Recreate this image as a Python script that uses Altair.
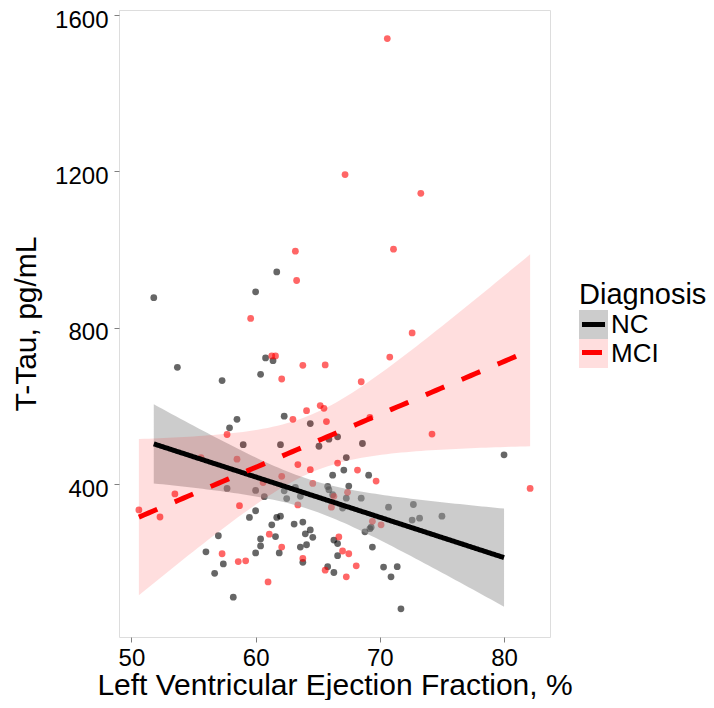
import altair as alt
import numpy as np
import pandas as pd

# ---- data ----
nc_x = [51.8, 61.7, 60.0, 53.7, 57.3, 60.4, 60.8, 61.4, 62.3, 64.4, 58.5, 57.9, 59.0, 62.0,
        65.1, 65.9, 66.6, 68.6, 57.7, 60.0, 60.7, 62.3, 62.5, 63.2, 63.6, 66.2, 65.8, 65.9,
        66.2, 60.0, 59.5, 61.7, 62.0, 61.3, 63.1, 63.8, 57.0, 60.4, 61.6, 64.0, 64.4, 64.6,
        60.4, 63.6, 64.1, 66.3, 66.6, 56.0, 60.0, 61.9, 66.6, 57.4, 56.7, 63.8, 65.8, 66.3,
        58.2, 67.3, 80.0, 67.1, 69.1, 67.5, 67.3, 68.5, 67.0, 70.7, 72.7, 72.6, 73.2, 75.0,
        68.8, 69.2, 69.3, 69.4, 70.3, 70.9, 71.4, 71.7]
nc_y = [877, 943, 892, 699, 665, 681, 723, 716, 574, 555, 566, 544, 501, 501,
        497, 515, 521, 504, 389, 384, 368, 383, 363, 392, 369, 423, 394, 386,
        373, 332, 315, 315, 318, 296, 298, 303, 268, 260, 266, 273, 283, 264,
        242, 239, 245, 257, 248, 227, 224, 224, 217, 196, 172, 200, 189, 174,
        111, 468, 475, 436, 423, 395, 364, 364, 339, 341, 348, 308, 313, 318,
        278, 286, 290, 239, 188, 163, 189, 81]

mci_x = [63.2, 63.3, 59.6, 61.3, 61.6, 63.8, 65.6, 62.1, 65.2, 65.5, 64.1, 63.0, 65.7, 57.7,
         71.1, 72.6, 70.8, 68.5, 69.2, 74.2, 70.6, 67.2, 73.3, 55.6, 58.5, 62.1, 63.4, 64.4,
         64.6, 66.6, 60.6, 53.5, 50.6, 52.3, 58.7, 63.4, 66.1, 61.1, 62.1, 57.3, 58.6, 59.2,
         63.8, 65.6, 61.0, 66.7, 68.2, 69.7, 82.1, 67.4, 66.3, 69.4, 70.1, 67.0, 67.5, 68.1,
         67.3]
mci_y = [996, 921, 824, 728, 728, 704, 705, 669, 601, 594, 588, 566, 560, 527,
         1001, 787, 725, 662, 571, 528, 1540, 1192, 1144, 468, 464, 420, 450, 437,
         402, 454, 404, 375, 334, 316, 345, 347, 341, 272, 239, 222, 202, 204,
         210, 180, 150, 265, 436, 408, 389, 379, 369, 305, 296, 229, 222, 191,
         163]

groups = ["NC", "MCI"]
fit_keys = ["NC fit", "MCI fit"]
x_ticks = [50, 60, 70, 80]
y_ticks = [400, 800, 1200, 1600]

FONT = "Liberation Sans"


def fit_band(xs, ys, n_grid=80):
    x = np.asarray(xs, float)
    y = np.asarray(ys, float)
    n = len(x)
    b, a = np.polyfit(x, y, 1)
    resid = y - (a + b * x)
    s = np.sqrt(np.sum(resid ** 2) / (n - 2))
    xbar = x.mean()
    sxx = np.sum((x - xbar) ** 2)
    z = 1.959964
    df = n - 2
    t = z + (z ** 3 + z) / (4 * df) + (5 * z ** 5 + 16 * z ** 3 + 3 * z) / (96 * df ** 2)
    g = np.linspace(x.min(), x.max(), n_grid)
    f = a + b * g
    se = s * np.sqrt(1.0 / n + (g - xbar) ** 2 / sxx)
    return g, f, f - t * se, f + t * se


points = pd.concat([
    pd.DataFrame({"x": nc_x, "y": nc_y, "Diagnosis": "NC"}),
    pd.DataFrame({"x": mci_x, "y": mci_y, "Diagnosis": "MCI"}),
], ignore_index=True)

bands = []
for name, key, xs, ys in [("NC", "NC fit", nc_x, nc_y), ("MCI", "MCI fit", mci_x, mci_y)]:
    g, f, lo, hi = fit_band(xs, ys)
    bands.append(pd.DataFrame({"x": g, "fit": f, "lo": lo, "hi": hi,
                               "Diagnosis": name, "Dx": key}))
band = pd.concat(bands, ignore_index=True)

xscale = alt.Scale(domain=[49.0, 83.7], nice=False, zero=False)
yscale = alt.Scale(domain=[9, 1613], nice=False, zero=False)

xaxis = alt.Axis(values=x_ticks, title="Left Ventricular Ejection Fraction, %",
                 grid=False, domain=False, tickColor="#808080", tickSize=5, tickWidth=1,
                 labelFontSize=24, labelFont=FONT, labelColor="black", labelPadding=4,
                 titleFontSize=30, titleFont=FONT, titleFontWeight="normal",
                 titleColor="black", titlePadding=0)
yaxis = alt.Axis(values=y_ticks, title="T-Tau, pg/mL", format="d",
                 grid=False, domain=False, tickColor="#808080", tickSize=5, tickWidth=1,
                 labelFontSize=24, labelFont=FONT, labelColor="black", labelPadding=6,
                 labelOffset=5,
                 titleFontSize=30, titleFont=FONT, titleFontWeight="normal",
                 titleColor="black", titlePadding=13)

# point colours: data-derived (alphabetical MCI, NC) domain, no legend
pts = alt.Chart(points).mark_circle(size=46, opacity=0.6).encode(
    x=alt.X("x:Q", scale=xscale, axis=xaxis),
    y=alt.Y("y:Q", scale=yscale, axis=yaxis),
    color=alt.Color("Diagnosis:N", scale=alt.Scale(range=["red", "black"]), legend=None),
)

LEG_X = 460
LEG_Y = 271

area = alt.Chart(band).mark_area(opacity=1).encode(
    x=alt.X("x:Q", scale=xscale),
    y=alt.Y("lo:Q", scale=yscale, stack=None),
    y2="hi:Q",
    fill=alt.Fill("Diagnosis:N",
                  scale=alt.Scale(domain=groups,
                                  range=["rgba(153,153,153,0.5)", "rgba(255,0,0,0.13)"]),
                  legend=alt.Legend(orient="none", legendX=LEG_X, legendY=LEG_Y,
                                    direction="vertical", padding=0, rowPadding=0,
                                    titlePadding=0, labelOffset=3,
                                    title="Diagnosis", titleFontSize=29, titleFont=FONT,
                                    titleFontWeight="normal", titleColor="black",
                                    labelFontSize=26, labelFont=FONT, labelColor="black",
                                    symbolType="square", symbolSize=841,
                                    symbolStrokeWidth=0)),
)

lines = alt.Chart(band).mark_line(strokeWidth=5, strokeCap="butt").encode(
    x=alt.X("x:Q", scale=xscale),
    y=alt.Y("fit:Q", scale=yscale),
    stroke=alt.Stroke("Dx:N", scale=alt.Scale(domain=fit_keys, range=["black", "red"]),
                      legend=alt.Legend(orient="none", legendX=LEG_X, legendY=LEG_Y + 29,
                                        direction="vertical", padding=0, rowPadding=0,
                                        title=None, labelExpr="''", labelFontSize=26,
                                        symbolType="M-0.96,0H0.96", symbolSize=576,
                                        symbolStrokeWidth=5)),
    strokeDash=alt.StrokeDash("Dx:N",
                              scale=alt.Scale(domain=fit_keys, range=[[1, 0], [20, 19]]),
                              legend=None),
)

chart = alt.layer(pts, area, lines).properties(
    width=431, height=627,
    autosize=alt.AutoSizeParams(type="none"),
    padding={"left": 111, "top": 2, "right": 156, "bottom": 63},
).configure_view(stroke="#808080", strokeWidth=1).configure(background="white")

chart.save("out.html", embed_options={"renderer": "svg", "actions": False})
